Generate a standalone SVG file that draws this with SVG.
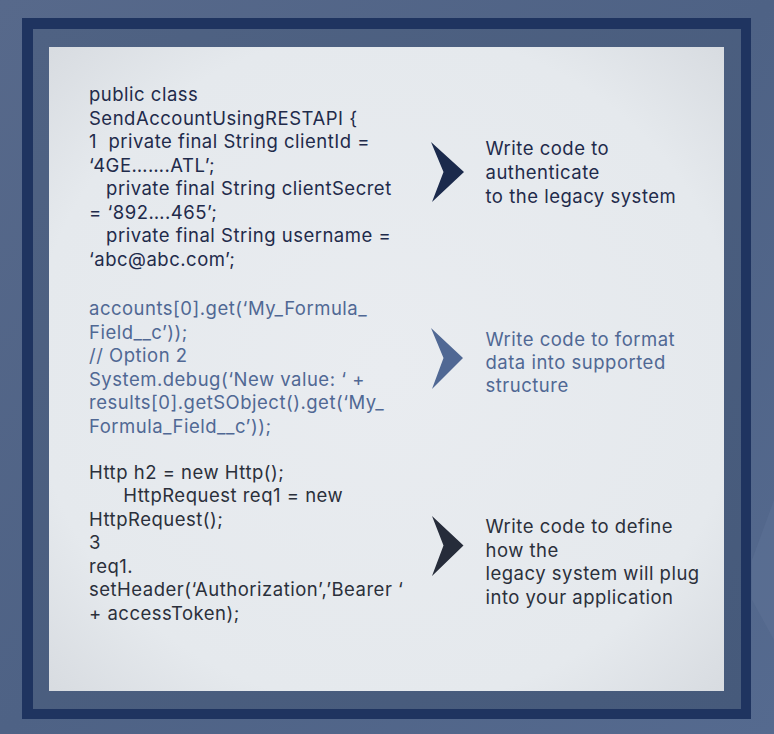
<svg xmlns="http://www.w3.org/2000/svg" width="774" height="734" viewBox="0 0 774 734">
<defs>
<linearGradient id="bg" x1="0" y1="0" x2="1" y2="1">
<stop offset="0" stop-color="#57698b"/>
<stop offset="0.5" stop-color="#4e6285"/>
<stop offset="1" stop-color="#556a8f"/>
</linearGradient>
<linearGradient id="mid" x1="0" y1="0" x2="1" y2="1">
<stop offset="0" stop-color="#4f6283"/>
<stop offset="1" stop-color="#465a7b"/>
</linearGradient>
<radialGradient id="panel" cx="0.5" cy="0.5" r="0.7">
<stop offset="0" stop-color="#e9ecf0"/>
<stop offset="0.75" stop-color="#e5e9ed"/>
<stop offset="1" stop-color="#d8dce1"/>
</radialGradient>
<style>
text{font-family:Inter,"Noto Sans","Liberation Sans",sans-serif;font-size:18.5px;letter-spacing:0.5px;white-space:pre}
.c1{fill:#1f2b4b}
.c2{fill:#506894}
.c3{fill:#2b303b}
</style>
</defs>
<rect x="0" y="0" width="774" height="734" fill="url(#bg)"/>
<polygon points="752,560 774,500 774,640 752,600" fill="#5d7196" opacity="0.5"/>
<g id="frame">
<rect x="22" y="18" width="729" height="701" fill="#1f3460"/>
<rect x="33" y="29" width="708" height="680" fill="url(#mid)"/>
<rect x="49" y="47" width="675" height="644" fill="url(#panel)"/>
</g>
<g id="code1" class="c1">
<text x="89" y="101">public class</text>
<text x="89" y="124.5">SendAccountUsingRESTAPI {</text>
<text x="89" y="148">1  private final String clientId =</text>
<text x="89" y="171.5">‘4GE…….ATL’;</text>
<text x="89" y="195">   private final String clientSecret</text>
<text x="89" y="218.5">= ‘892….465’;</text>
<text x="89" y="242">   private final String username =</text>
<text x="89" y="265.5">‘abc@abc.com’;</text>
</g>
<g id="code2" class="c2">
<text x="89" y="315">accounts[0].get(‘My_Formula_</text>
<text x="89" y="338.5">Field__c’));</text>
<text x="89" y="362">// Option 2</text>
<text x="89" y="385.5">System.debug(‘New value: ‘ +</text>
<text x="89" y="409">results[0].getSObject().get(‘My_</text>
<text x="89" y="432.5">Formula_Field__c’));</text>
</g>
<g id="code3" class="c3">
<text x="89" y="478.5">Http h2 = new Http();</text>
<text x="89" y="502">      HttpRequest req1 = new</text>
<text x="89" y="525.5">HttpRequest();</text>
<text x="89" y="549">3</text>
<text x="89" y="572.5">req1.</text>
<text x="89" y="596">setHeader(‘Authorization’,’Bearer ‘</text>
<text x="89" y="619.5">+ accessToken);</text>
</g>
<g id="connectors">
<polygon points="431,142 464,172 432,202 443.5,172" fill="#1b2a4c"/>
<polygon points="431,328 463,358 432,389 443.5,358" fill="#506894"/>
<polygon points="432,516 463.5,545.5 432,576 443.5,545.5" fill="#262c3a"/>
</g>
<g id="label1" class="c1">
<text x="485.5" y="155">Write code to</text>
<text x="485.5" y="178.5">authenticate</text>
<text x="485.5" y="202.5">to the legacy system</text>
</g>
<g id="label2" class="c2">
<text x="485.5" y="345.5">Write code to format</text>
<text x="485.5" y="369">data into supported</text>
<text x="485.5" y="392">structure</text>
</g>
<g id="label3" class="c3">
<text x="485.5" y="533">Write code to define</text>
<text x="485.5" y="556.5">how the</text>
<text x="485.5" y="580">legacy system will plug</text>
<text x="485.5" y="604">into your application</text>
</g>
</svg>
